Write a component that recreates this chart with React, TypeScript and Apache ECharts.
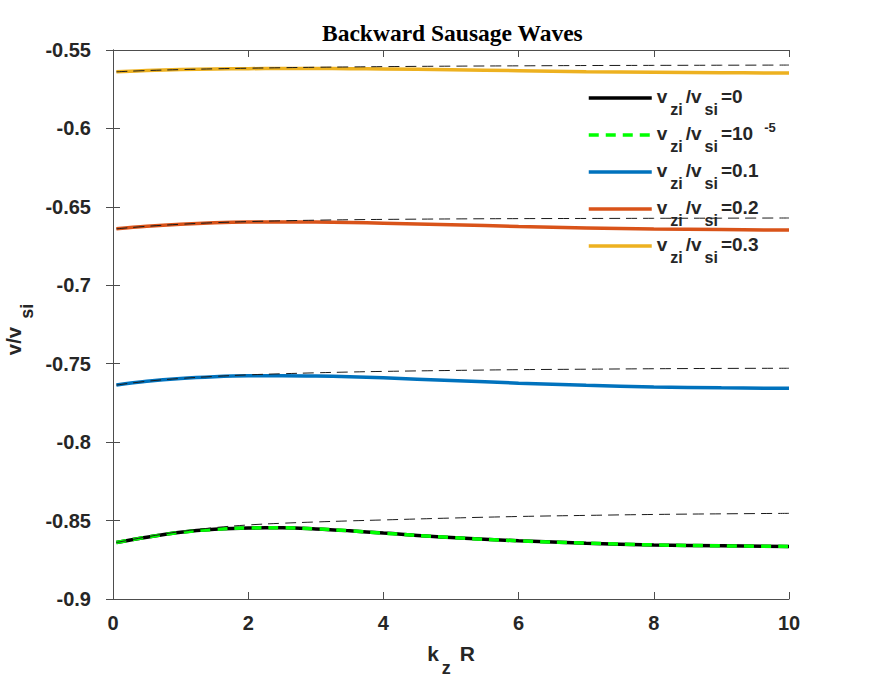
import React, { useEffect, useRef } from 'react';
import * as echarts from 'echarts';

// kz R values (x axis)
const kzR = [0.05, 0.5, 1, 1.5, 2, 2.5, 3, 3.5, 4, 5, 6, 7, 8, 9, 10];

// v / v_si for each v_zi / v_si ratio
const ratio0 = [-0.8640, -0.8606, -0.8575, -0.8556, -0.8547, -0.8546, -0.8553, -0.8565, -0.8580, -0.8608, -0.8629, -0.8644, -0.8655, -0.8661, -0.8665];
const ratio1e5 = [-0.8640, -0.8606, -0.8575, -0.8556, -0.8547, -0.8546, -0.8553, -0.8565, -0.8580, -0.8608, -0.8629, -0.8644, -0.8655, -0.8661, -0.8665];
const ratio01 = [-0.7636, -0.7612, -0.7594, -0.7583, -0.7577, -0.7576, -0.7578, -0.7583, -0.7590, -0.7607, -0.7624, -0.7638, -0.7648, -0.7654, -0.7657];
const ratio02 = [-0.6640, -0.6624, -0.6611, -0.6602, -0.6597, -0.6596, -0.6597, -0.6600, -0.6604, -0.6614, -0.6625, -0.6634, -0.6641, -0.6645, -0.6648];
const ratio03 = [-0.5639, -0.5631, -0.5625, -0.5621, -0.5619, -0.5618, -0.5618, -0.5619, -0.5621, -0.5626, -0.5632, -0.5638, -0.5642, -0.5645, -0.5647];

// thin dashed reference curves
const ref0 = [-0.8640, -0.8604, -0.8570, -0.8545, -0.8528, -0.8517, -0.8509, -0.8502, -0.8496, -0.8484, -0.8474, -0.8467, -0.8461, -0.8457, -0.8454];
const ref01 = [-0.7636, -0.7612, -0.7594, -0.7581, -0.7571, -0.7564, -0.7558, -0.7553, -0.7549, -0.7543, -0.7538, -0.7535, -0.7532, -0.7530, -0.7529];
const ref02 = [-0.6640, -0.6624, -0.6611, -0.6601, -0.6594, -0.6589, -0.6585, -0.6582, -0.6580, -0.6577, -0.6575, -0.6574, -0.6573, -0.6572, -0.6571];
const ref03 = [-0.5639, -0.5631, -0.5625, -0.5620, -0.5616, -0.5613, -0.5610, -0.5608, -0.5606, -0.5603, -0.5601, -0.5599, -0.5598, -0.5597, -0.5596];

const legendKeys = ['r0', 'r1e5', 'r01', 'r02', 'r03'];
const legendValues = ['0', '10', '0.1', '0.2', '0.3'];
const legendSup = ['', '-5', '', '', ''];

const xTicks = { min: 0, max: 10, interval: 2 };
const yTicks = { min: -0.9, max: -0.55, interval: 0.05 };

const TEXT = '#262626';
const AXIS = '#4d4d4d';
const SANS = 'Liberation Sans, Arial, Helvetica, sans-serif';

const pairs = (ys: number[]) => kzR.map((x, i) => [x, ys[i]]);

export default function App() {
  const ref = useRef<HTMLDivElement>(null);
  useEffect(() => {
    if (!ref.current) return;
    const chart = echarts.init(ref.current, undefined, { renderer: 'svg' });
    const solid = (name: string, ys: number[], color: string, extra: any = {}) => ({
      name,
      type: 'line',
      data: pairs(ys),
      smooth: 0.4,
      symbol: 'none',
      lineStyle: { color, width: 3.5, ...extra },
      itemStyle: { color },
      z: 2,
    });
    const thin = (name: string, ys: number[]) => ({
      name,
      type: 'line',
      data: pairs(ys),
      smooth: 0.4,
      symbol: 'none',
      lineStyle: { color: '#1a1a1a', width: 1, type: [11, 6] },
      itemStyle: { color: '#1a1a1a' },
      z: 5,
      silent: true,
    });
    const axisCommon = {
      axisLine: { show: true, lineStyle: { color: AXIS, width: 1 } },
      axisTick: { show: true, inside: true, length: 7, lineStyle: { color: AXIS, width: 1 } },
      splitLine: { show: false },
    };
    const bold = { fontFamily: SANS, fontWeight: 'bold', color: TEXT };
    chart.setOption({
      animation: false,
      title: {
        text: 'Backward Sausage Waves',
        left: 322,
        top: 21,
        padding: 0,
        textStyle: { fontFamily: 'Liberation Serif, Times New Roman, serif', fontWeight: 'bold', fontSize: 23.5, color: '#000' },
      },
      grid: { left: 113, right: 83, top: 50, bottom: 77, containLabel: false, outerBoundsMode: 'none' },
      legend: {
        data: legendKeys,
        left: 587,
        top: 79,
        orient: 'vertical',
        padding: 0,
        itemGap: -1,
        itemWidth: 63,
        itemHeight: 10,
        selectedMode: false,
        itemStyle: { color: 'rgba(0,0,0,0)', borderColor: 'rgba(0,0,0,0)', borderWidth: 0 },
        lineStyle: { width: 3.5 },
        formatter: (name: string) => {
          const i = legendKeys.indexOf(name);
          return `{m|v}{s|zi}{m|/v}{s|si}{m|=${legendValues[i]}}` + (legendSup[i] ? `{p|${legendSup[i]}}` : '');
        },
        textStyle: {
          ...bold,
          fontSize: 19,
          rich: {
            m: { ...bold, fontSize: 19, lineHeight: 35, verticalAlign: 'middle', padding: [0, 0, 3, 0] },
            s: { ...bold, fontSize: 16, lineHeight: 35, verticalAlign: 'middle', padding: [22, 3, 0, 3] },
            p: { ...bold, fontSize: 13, lineHeight: 35, verticalAlign: 'middle', padding: [0, 0, 16, 11] },
          },
        },
      },
      xAxis: [
        {
          type: 'value',
          ...xTicks,
          position: 'bottom',
          ...axisCommon,
          axisLabel: { ...bold, fontSize: 20, margin: 14 },
          name: '{m|k}{s|z}{m| R}',
          nameLocation: 'middle',
          nameGap: 43,
          nameMoveOverlap: false,
          nameTextStyle: {
            rich: {
              m: { ...bold, fontSize: 21, lineHeight: 22, verticalAlign: 'middle' },
              s: { ...bold, fontSize: 18, lineHeight: 22, verticalAlign: 'middle', padding: [30, 3, 0, 3] },
            },
          },
        },
        {
          type: 'value',
          ...xTicks,
          position: 'top',
          ...axisCommon,
          axisLabel: { show: false },
        },
      ],
      yAxis: [
        {
          type: 'value',
          ...yTicks,
          position: 'left',
          ...axisCommon,
          axisLabel: { ...bold, fontSize: 20, margin: 22 },
          name: '{m|v/v}{s|si}',
          nameLocation: 'middle',
          nameGap: 89,
          nameMoveOverlap: false,
          nameTextStyle: {
            rich: {
              m: { ...bold, fontSize: 20.5, lineHeight: 22, verticalAlign: 'middle' },
              s: { ...bold, fontSize: 18, lineHeight: 22, verticalAlign: 'middle', padding: [28, 10, 0, 8] },
            },
          },
        },
        {
          type: 'value',
          ...yTicks,
          position: 'right',
          ...axisCommon,
          axisLabel: { show: false },
        },
      ],
      series: [
        solid('r0', ratio0, '#000000'),
        solid('r1e5', ratio1e5, '#00ff00', { type: [10, 7] }),
        solid('r01', ratio01, '#0072BD'),
        solid('r02', ratio02, '#D95319'),
        solid('r03', ratio03, '#EDB120'),
        thin('ref0', ref0),
        thin('ref01', ref01),
        thin('ref02', ref02),
        thin('ref03', ref03),
      ],
    });
    return () => chart.dispose();
  }, []);
  return <div ref={ref} style={{ position: 'fixed', left: 0, top: 0, width: 872, height: 676, background: '#fff' }} />;
}
